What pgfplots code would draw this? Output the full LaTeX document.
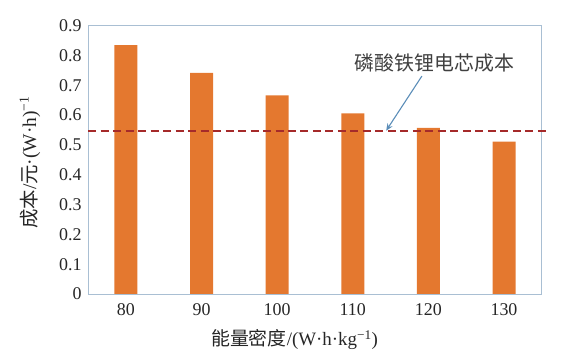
\documentclass[border=0pt]{standalone}
\usepackage{fontspec}
\setmainfont{Liberation Serif}
\newfontfamily\cjk{Noto Sans CJK SC}
\usepackage{pgfplots}
\pgfplotsset{compat=1.18}
\usetikzlibrary{arrows.meta}
\definecolor{barc}{HTML}{E4782F}
\definecolor{dashc}{HTML}{A52A2A}
\definecolor{arrc}{HTML}{5B8DB8}
\definecolor{framec}{HTML}{A9BFD3}
\begin{document}
\begin{tikzpicture}
\draw[white] (0bp,0bp) rectangle (567bp,362bp);
\begin{axis}[
  at={(88bp,68bp)}, anchor=south west,
  scale only axis, width=454bp, height=268.5bp,
  xmin=-0.5, xmax=5.5, ymin=0, ymax=0.9,
  xtick={0,1,2,3,4,5}, xticklabels={80,90,100,110,120,130},
  ytick={0,0.1,...,0.9},
  yticklabels={0,0.1,0.2,0.3,0.4,0.5,0.6,0.7,0.8,0.9},
  major tick length=0pt,
  axis line style={draw=framec, line width=0.8pt},
  tick label style={font=\rmfamily\fontsize{18}{20}\selectfont, text=black!85},
  yticklabel style={xshift=-3bp},
  xticklabel style={yshift=-6bp},
  /pgf/number format/assume math mode=true,
  clip=false,
  xlabel={\cjk 能量密度\rmfamily/(W·h·kg\textsuperscript{−1})},
  xlabel style={at={(axis description cs:0.455,-0.171)}, anchor=center, font=\fontsize{19}{21}\selectfont, text=black!85},
  ylabel={\cjk 成本\rmfamily/\cjk 元\rmfamily·(W·h)\textsuperscript{−1}},
  ylabel style={at={(axis description cs:-0.128,0.49)}, anchor=center, font=\fontsize{19.5}{21}\selectfont, text=black!85},
]
\addplot[ybar, bar width=23bp, fill=barc, draw=none] coordinates {
(0,0.835) (1,0.742) (2,0.666) (3,0.606) (4,0.557) (5,0.511)};
\addplot[dashc, line width=2.2bp, dash pattern=on 8bp off 4.5bp] coordinates {(-0.5,0.546) (5.6,0.546)};
\node[font=\cjk\fontsize{20}{22}\selectfont, text=black!75, anchor=center] at (axis cs:4.08,0.774) {磷酸铁锂电芯成本};
\draw[arrc, line width=1.1bp, -{Stealth[length=7bp,width=6bp]}] (axis cs:3.914,0.731) -- (axis cs:3.442,0.548);
\end{axis}
\end{tikzpicture}
\end{document}
